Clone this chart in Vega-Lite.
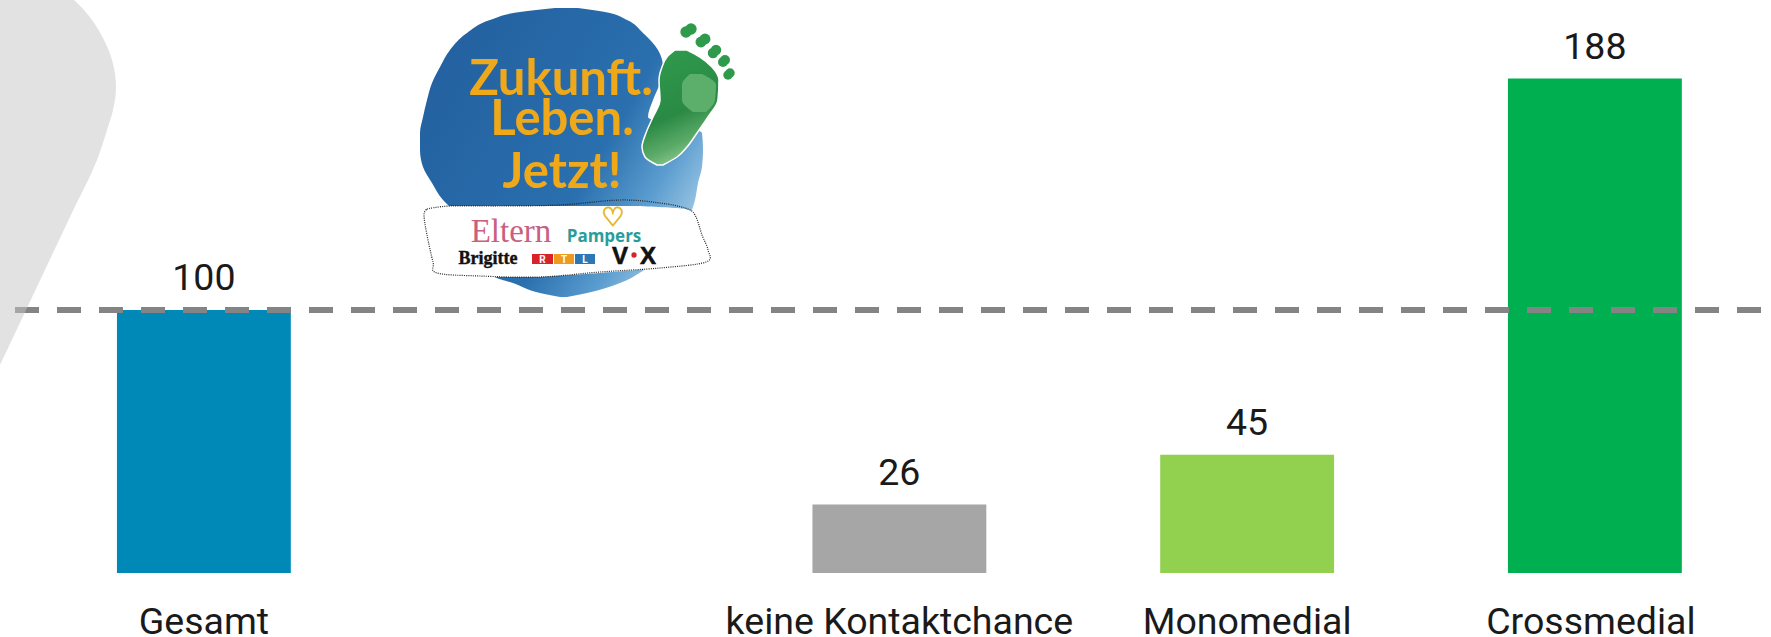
{
"$schema":"https://vega.github.io/schema/vega-lite/v6.json",
"width":1771,"height":573,"autosize":"none",
"padding":{"left":0,"top":0,"right":0,"bottom":64},
"background":"#ffffff",
"view":{"stroke":null},
"config":{"text":{"font":"Roboto"}},
"datasets":{
 "bars":[{"cat":"Gesamt","value":100},{"cat":"keine Kontaktchance","value":26},{"cat":"Monomedial","value":45},{"cat":"Crossmedial","value":188}],
 "swoosh":[{"py":0,"e":74,"o":0},{"py":10,"e":84,"o":0},{"py":20,"e":92,"o":0},{"py":40,"e":104,"o":0},{"py":60,"e":112,"o":0},{"py":88,"e":116,"o":0},{"py":110,"e":113,"o":0},{"py":130,"e":107,"o":0},{"py":160,"e":97,"o":0},{"py":210,"e":73.3,"o":0},{"py":262,"e":48.7,"o":0},{"py":310,"e":26,"o":0},{"py":365,"e":0,"o":0}],
 "blob":[{"py":8,"l":555,"r":578},{"py":12,"l":520,"r":605},{"py":20,"l":490,"r":627},{"py":33,"l":467,"r":643},{"py":50,"l":450,"r":658},{"py":67,"l":440,"r":663},{"py":83,"l":432,"r":660},{"py":100,"l":427,"r":653},{"py":117,"l":423,"r":648},{"py":133,"l":420,"r":702},{"py":150,"l":420,"r":703},{"py":167,"l":423,"r":702},{"py":183,"l":432,"r":698},{"py":200,"l":443,"r":695},{"py":207,"l":450,"r":693},{"py":277,"l":495,"r":633},{"py":283,"l":513,"r":620},{"py":293,"l":540,"r":587},{"py":297,"l":560,"r":567}],
 "band":[{"py":206,"l":445,"r":640},{"py":209,"l":427,"r":685},{"py":215,"l":424,"r":697},{"py":235,"l":427,"r":705},{"py":250,"l":430,"r":708},{"py":262,"l":433,"r":706},{"py":268,"l":438,"r":660},{"py":273,"l":445,"r":600},{"py":277,"l":480,"r":540}],
 "bandLine":[{"i":0,"px":427,"py":209},{"i":1,"px":450,"py":206},{"i":2,"px":500,"py":206},{"i":3,"px":560,"py":205},{"i":4,"px":620,"py":200},{"i":5,"px":660,"py":203},{"i":6,"px":685,"py":208},{"i":7,"px":695,"py":215},{"i":8,"px":702,"py":235},{"i":9,"px":708,"py":250},{"i":10,"px":706,"py":262},{"i":11,"px":660,"py":268},{"i":12,"px":600,"py":272},{"i":13,"px":540,"py":277},{"i":14,"px":480,"py":276},{"i":15,"px":437,"py":273},{"i":16,"px":433,"py":262},{"i":17,"px":427,"py":235},{"i":18,"px":424,"py":215},{"i":19,"px":427,"py":209}],
 "foot":[{"py":50,"l":675,"r":687},{"py":57,"l":667,"r":700},{"py":67,"l":662,"r":712},{"py":80,"l":659,"r":719},{"py":100,"l":660,"r":718},{"py":117,"l":653,"r":708},{"py":133,"l":646,"r":697},{"py":147,"l":642,"r":687},{"py":157,"l":645,"r":677},{"py":165,"l":657,"r":663}],
 "patch":[{"py":74,"l":690,"r":702},{"py":85,"l":682,"r":716},{"py":100,"l":682,"r":715},{"py":112,"l":693,"r":706}],
 "toes":[{"toe":"a","px":686,"py":32},{"toe":"a","px":691,"py":29},{"toe":"b","px":701,"py":42},{"toe":"b","px":705,"py":39},{"toe":"c","px":713,"py":53},{"toe":"c","px":716,"py":50},{"toe":"d","px":723,"py":62},{"toe":"d","px":725,"py":60},{"toe":"e","px":728,"py":75},{"toe":"e","px":730,"py":73}]
},
"resolve":{"scale":{"x":"independent","y":"independent"},"axis":{"x":"independent","y":"independent"}},
"layer":[
 {"data":{"name":"bars"},"mark":{"type":"bar"},
  "encoding":{
   "x":{"field":"cat","type":"nominal","sort":["Gesamt"," ","keine Kontaktchance","Monomedial","Crossmedial"],
    "scale":{"domain":["Gesamt"," ","keine Kontaktchance","Monomedial","Crossmedial"],"range":[30,1768.75],"paddingInner":0.5,"paddingOuter":0.25},
    "axis":{"title":null,"domain":false,"ticks":false,"labelAngle":0,"labelFont":"Roboto","labelFontSize":37.5,"labelColor":"#1a1a1a","labelPadding":60,"labelBaseline":"alphabetic","labelLimit":500,"grid":false,
     "labelOffset":{"expr":"datum.value === 'Crossmedial' ? -4 : 0"}}},
   "y":{"field":"value","type":"quantitative","scale":{"domain":[0,217.87],"nice":false},"axis":null},
   "color":{"field":"cat","type":"nominal","legend":null,"scale":{"domain":["Gesamt","keine Kontaktchance","Monomedial","Crossmedial"],"range":["#0089b6","#a6a6a6","#92d050","#00b050"]}}
  }},
 {"data":{"name":"bars"},"mark":{"type":"text","font":"Roboto","fontSize":37.5,"color":"#1a1a1a","baseline":"alphabetic","dy":-20},
  "encoding":{
   "x":{"field":"cat","type":"nominal","scale":{"domain":["Gesamt"," ","keine Kontaktchance","Monomedial","Crossmedial"],"range":[30,1768.75],"paddingInner":0.5,"paddingOuter":0.25},"axis":null},
   "y":{"field":"value","type":"quantitative","scale":{"domain":[0,217.87],"nice":false},"axis":null},
   "text":{"field":"value","type":"quantitative"}
  }},
 {"data":{"values":[{"ref":100}]},"mark":{"type":"rule","color":"#848484","strokeWidth":6,"strokeDash":[24,18],"strokeDashOffset":32},
  "encoding":{"y":{"field":"ref","type":"quantitative","scale":{"domain":[0,217.87],"nice":false},"axis":null}}},
 {"data":{"name":"swoosh"},"mark":{"type":"area","orient":"horizontal","interpolate":"monotone","fill":"#c5c5c5","opacity":0.5},
  "encoding":{
   "x":{"field":"o","type":"quantitative","scale":{"domain":[0,1771],"range":[0,1771]},"axis":null},
   "x2":{"field":"e"},
   "y":{"field":"py","type":"quantitative","sort":null,"scale":{"domain":[0,573],"range":[0,573]},"axis":null}
  }},
 {"data":{"name":"blob"},"mark":{"type":"area","orient":"horizontal","interpolate":"monotone","fill":{"gradient":"linear","x1":0,"y1":0.2,"x2":1,"y2":0.8,"stops":[{"offset":0,"color":"#23609f"},{"offset":0.6,"color":"#2a6fae"},{"offset":0.8,"color":"#5b9dcf"},{"offset":1,"color":"#b5d6ec"}]}},
  "encoding":{
   "x":{"field":"l","type":"quantitative","scale":{"domain":[0,1771],"range":[0,1771]},"axis":null},
   "x2":{"field":"r"},
   "y":{"field":"py","type":"quantitative","scale":{"domain":[0,573],"range":[0,573]},"axis":null}
  }},
 {"data":{"name":"band"},"mark":{"type":"area","orient":"horizontal","interpolate":"monotone","fill":"#ffffff"},
  "encoding":{
   "x":{"field":"l","type":"quantitative","scale":{"domain":[0,1771],"range":[0,1771]},"axis":null},
   "x2":{"field":"r"},
   "y":{"field":"py","type":"quantitative","scale":{"domain":[0,573],"range":[0,573]},"axis":null}
  }},
 {"data":{"name":"bandLine"},"mark":{"type":"line","color":"#222222","strokeWidth":1.2,"strokeDash":[1,1.2],"interpolate":"cardinal"},
  "encoding":{
   "x":{"field":"px","type":"quantitative","scale":{"domain":[0,1771],"range":[0,1771]},"axis":null},
   "y":{"field":"py","type":"quantitative","scale":{"domain":[0,573],"range":[0,573]},"axis":null},
   "order":{"field":"i","type":"quantitative"}
  }},
 {"data":{"name":"foot"},"mark":{"type":"area","orient":"horizontal","interpolate":"monotone","stroke":"#ffffff","strokeWidth":1.5,"fill":{"gradient":"linear","x1":0.3,"y1":0,"x2":0.6,"y2":1,"stops":[{"offset":0,"color":"#2f9a4c"},{"offset":0.55,"color":"#2a8a45"},{"offset":0.8,"color":"#5cab68"},{"offset":1,"color":"#9ccf9e"}]}},
  "encoding":{
   "x":{"field":"l","type":"quantitative","scale":{"domain":[0,1771],"range":[0,1771]},"axis":null},
   "x2":{"field":"r"},
   "y":{"field":"py","type":"quantitative","scale":{"domain":[0,573],"range":[0,573]},"axis":null}
  }},
 {"data":{"name":"patch"},"mark":{"type":"area","orient":"horizontal","interpolate":"monotone","fill":"#5caf6b"},
  "encoding":{
   "x":{"field":"l","type":"quantitative","scale":{"domain":[0,1771],"range":[0,1771]},"axis":null},
   "x2":{"field":"r"},
   "y":{"field":"py","type":"quantitative","scale":{"domain":[0,573],"range":[0,573]},"axis":null}
  }},
 {"data":{"name":"toes"},"mark":{"type":"point","filled":true,"shape":"circle","color":"#2f9a4c","opacity":1},
  "encoding":{
   "x":{"field":"px","type":"quantitative","scale":{"domain":[0,1771],"range":[0,1771]},"axis":null},
   "y":{"field":"py","type":"quantitative","scale":{"domain":[0,573],"range":[0,573]},"axis":null},
   "size":{"field":"toe","type":"ordinal","legend":null,"scale":{"range":[130,90,70,50,35]}}
  }},
 {"data":{"values":[{"t":"Zukunft.","px":561,"py":95},{"t":"Leben.","px":562,"py":135},{"t":"Jetzt!","px":562,"py":188}]},"mark":{"type":"text","font":"Lato","fontWeight":"bold","fontSize":49,"color":"#efa81a","baseline":"alphabetic"},
  "encoding":{
   "x":{"field":"px","type":"quantitative","scale":{"domain":[0,1771],"range":[0,1771]},"axis":null},
   "y":{"field":"py","type":"quantitative","scale":{"domain":[0,573],"range":[0,573]},"axis":null},
   "text":{"field":"t"}
  }},
 {"data":{"values":[{"t":"Eltern","px":511,"py":242}]},"mark":{"type":"text","font":"Liberation Serif","fontSize":33,"color":"#c9607f","baseline":"alphabetic"},
  "encoding":{
   "x":{"field":"px","type":"quantitative","scale":{"domain":[0,1771],"range":[0,1771]},"axis":null},
   "y":{"field":"py","type":"quantitative","scale":{"domain":[0,573],"range":[0,573]},"axis":null},
   "text":{"field":"t"}
  }},
 {"data":{"values":[{"t":"Pampers","px":604,"py":242}]},"mark":{"type":"text","font":"Open Sans","fontWeight":"bold","fontSize":17,"color":"#2a9d9a","baseline":"alphabetic"},
  "encoding":{
   "x":{"field":"px","type":"quantitative","scale":{"domain":[0,1771],"range":[0,1771]},"axis":null},
   "y":{"field":"py","type":"quantitative","scale":{"domain":[0,573],"range":[0,573]},"axis":null},
   "text":{"field":"t"}
  }},
 {"data":{"values":[{"t":"♡","px":613,"py":226}]},"mark":{"type":"text","font":"DejaVu Sans","fontWeight":"bold","fontSize":26,"color":"#e5b828","stroke":"#e5b828","strokeWidth":1,"baseline":"alphabetic"},
  "encoding":{
   "x":{"field":"px","type":"quantitative","scale":{"domain":[0,1771],"range":[0,1771]},"axis":null},
   "y":{"field":"py","type":"quantitative","scale":{"domain":[0,573],"range":[0,573]},"axis":null},
   "text":{"field":"t"}
  }},
 {"data":{"values":[{"t":"Brigitte","px":488,"py":264}]},"mark":{"type":"text","font":"Liberation Serif","fontWeight":"bold","fontSize":18,"color":"#111111","stroke":"#111111","strokeWidth":0.4,"baseline":"alphabetic"},
  "encoding":{
   "x":{"field":"px","type":"quantitative","scale":{"domain":[0,1771],"range":[0,1771]},"axis":null},
   "y":{"field":"py","type":"quantitative","scale":{"domain":[0,573],"range":[0,573]},"axis":null},
   "text":{"field":"t"}
  }},
 {"data":{"values":[{"a":532,"b":553,"c":254,"d":264}]},"mark":{"type":"rect","color":"#d8232a"},
  "encoding":{
   "x":{"field":"a","type":"quantitative","scale":{"domain":[0,1771],"range":[0,1771]},"axis":null},"x2":{"field":"b"},
   "y":{"field":"c","type":"quantitative","scale":{"domain":[0,573],"range":[0,573]},"axis":null},"y2":{"field":"d"}
  }},
 {"data":{"values":[{"a":554,"b":574,"c":254,"d":264}]},"mark":{"type":"rect","color":"#ee9a1c"},
  "encoding":{
   "x":{"field":"a","type":"quantitative","scale":{"domain":[0,1771],"range":[0,1771]},"axis":null},"x2":{"field":"b"},
   "y":{"field":"c","type":"quantitative","scale":{"domain":[0,573],"range":[0,573]},"axis":null},"y2":{"field":"d"}
  }},
 {"data":{"values":[{"a":575,"b":595,"c":254,"d":264}]},"mark":{"type":"rect","color":"#2d77b5"},
  "encoding":{
   "x":{"field":"a","type":"quantitative","scale":{"domain":[0,1771],"range":[0,1771]},"axis":null},"x2":{"field":"b"},
   "y":{"field":"c","type":"quantitative","scale":{"domain":[0,573],"range":[0,573]},"axis":null},"y2":{"field":"d"}
  }},
 {"data":{"values":[{"t":"R","px":542.5,"py":263},{"t":"T","px":564,"py":263},{"t":"L","px":585,"py":263}]},"mark":{"type":"text","font":"Roboto","fontWeight":"bold","fontSize":10,"color":"#ffffff","baseline":"alphabetic"},
  "encoding":{
   "x":{"field":"px","type":"quantitative","scale":{"domain":[0,1771],"range":[0,1771]},"axis":null},
   "y":{"field":"py","type":"quantitative","scale":{"domain":[0,573],"range":[0,573]},"axis":null},
   "text":{"field":"t"}
  }},
 {"data":{"values":[{"t":"V","px":620,"py":264},{"t":"X","px":648,"py":264}]},"mark":{"type":"text","font":"Liberation Sans","fontWeight":"bold","fontSize":24,"color":"#111111","stroke":"#111111","strokeWidth":0.6,"baseline":"alphabetic"},
  "encoding":{
   "x":{"field":"px","type":"quantitative","scale":{"domain":[0,1771],"range":[0,1771]},"axis":null},
   "y":{"field":"py","type":"quantitative","scale":{"domain":[0,573],"range":[0,573]},"axis":null},
   "text":{"field":"t"}
  }},
 {"data":{"values":[{"px":634,"py":255}]},"mark":{"type":"point","filled":true,"shape":"circle","color":"#d8232a","opacity":1,"size":28},
  "encoding":{
   "x":{"field":"px","type":"quantitative","scale":{"domain":[0,1771],"range":[0,1771]},"axis":null},
   "y":{"field":"py","type":"quantitative","scale":{"domain":[0,573],"range":[0,573]},"axis":null}
  }}
]
}
